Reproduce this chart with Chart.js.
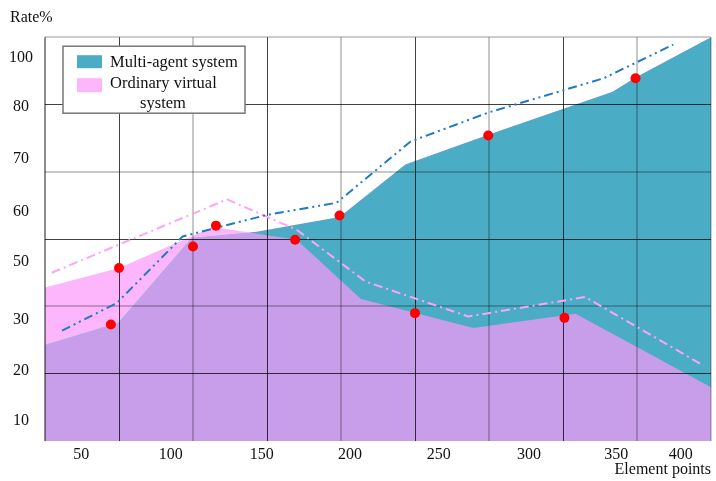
<!DOCTYPE html>
<html lang="en">
<head>
  <meta charset="UTF-8">
  <title>Rate% by element points</title>
  <script src="https://cdn.jsdelivr.net/npm/chart.js"></script>
  <style>
    html, body { margin: 0; padding: 0; background: #fff; }
    #wrap { width: 716px; height: 481px; }
  </style>
</head>
<body>
  <div id="wrap"><canvas id="myChart"></canvas></div>

  <script>
    // Axes run in grid units: 9 columns across, 6 rows up.
    // Tick labels of the figure sit at their own (uneven) places.
    const xTickPos = [0.49, 1.70, 2.93, 4.12, 5.32, 6.54, 7.72, 8.59];
    const xTickLabels = ["50", "100", "150", "200", "250", "300", "350", "400"];
    const yTickPos = [0.30, 1.04, 1.80, 2.66, 3.40, 4.19, 4.96, 5.70];
    const yTickLabels = ["10", "20", "30", "50", "60", "70", "80", "100"];

    // area outlines
    const multiAgentX = [0, 0.99, 1.98, 2.86, 3.98, 4.87, 5.99, 7.67, 7.98, 9];
    const multiAgentY = [1.43, 1.76, 3.02, 3.11, 3.33, 4.11, 4.55, 5.19, 5.40, 6.0];
    const ordinaryX = [0, 1.0, 2.27, 3.40, 4.27, 5.79, 7.17, 9];
    const ordinaryY = [2.28, 2.57, 3.18, 2.99, 2.11, 1.68, 1.89, 0.80];

    // dash-dot trend lines
    const multiTrendX = [0.23, 0.97, 1.86, 3.0, 3.94, 4.94, 5.99, 7.55, 8.49];
    const multiTrendY = [1.64, 2.05, 3.04, 3.36, 3.54, 4.45, 4.88, 5.39, 5.89];
    const ordTrendX = [0.09, 2.46, 3.40, 4.33, 5.72, 7.30, 8.90];
    const ordTrendY = [2.50, 3.59, 3.14, 2.37, 1.85, 2.14, 1.12];

    // red sample points
    const sampleX = [0.89, 1.0, 2.0, 2.31, 3.38, 3.98, 5.0, 5.99, 7.02, 7.98];
    const sampleY = [1.73, 2.57, 2.89, 3.20, 2.99, 3.35, 1.90, 4.54, 1.83, 5.39];

    const TEAL = "rgb(75, 172, 198)";
    const PINK = "rgb(253, 182, 251)";
    const PURPLE = "rgb(200, 158, 235)";

    function pts(xs, ys) {
      return xs.map((x, i) => ({ x: x, y: ys[i] }));
    }

    // odd lines dark and thin, even lines light and wide, frame light
    function gridColor(ctx, last) {
      const i = ctx.index;
      if (i === 0) return last === 9 ? "rgba(0,0,0,0.45)" : "rgba(255,255,255,0)";
      if (i === last) return "rgba(0,0,0,0.2)";
      return i % 2 ? "rgba(0,0,0,0.75)" : "rgba(0,0,0,0.22)";
    }
    function gridWidth(ctx, last) {
      const i = ctx.index;
      if (i === 0 || i === last) return 2;
      return i % 2 ? 1 : 2;
    }

    // boxed legend inside the plot, top left
    const boxLegend = {
      id: "boxLegend",
      afterDraw(chart) {
        const c = chart.ctx;
        const a = chart.chartArea;
        const x = a.left + 18, y = a.top + 9, w = 182, h = 67;
        c.save();
        c.fillStyle = "#fff";
        c.fillRect(x, y, w, h);
        c.strokeStyle = "#777";
        c.lineWidth = 1.5;
        c.strokeRect(x, y, w, h);
        c.fillStyle = TEAL;
        c.fillRect(x + 14, y + 9, 25, 13);
        c.fillStyle = PINK;
        c.fillRect(x + 14, y + 32, 25, 14);
        c.fillStyle = "#111";
        c.font = "16.5px 'Liberation Serif'";
        c.textBaseline = "middle";
        c.textAlign = "left";
        c.fillText("Multi-agent system", x + 47, y + 16);
        c.fillText("Ordinary virtual", x + 47, y + 37);
        c.textAlign = "center";
        c.fillText("system", x + 100, y + 57);
        c.restore();
      }
    };

    function drawChart() {
      Chart.defaults.font.family = "'Liberation Serif', 'Times New Roman', serif";
      Chart.defaults.font.size = 16;
      Chart.defaults.color = "#111";

      const ctx = document.getElementById("myChart").getContext("2d");

      new Chart(ctx, {
        type: "line",
        data: {
          datasets: [{
            // index 0: fills down to the multi-agent outline (dataset 1)
            label: "Ordinary virtual system",
            data: pts(ordinaryX, ordinaryY),
            borderWidth: 0,
            pointRadius: 0,
            fill: { target: 1, above: PINK, below: TEAL },
            order: 2
          }, {
            label: "Multi-agent system",
            data: pts(multiAgentX, multiAgentY),
            backgroundColor: PURPLE,
            borderWidth: 0,
            pointRadius: 0,
            fill: "origin",
            order: 3
          }, {
            label: "Multi-agent trend",
            data: pts(multiTrendX, multiTrendY),
            borderColor: "rgb(30, 122, 200)",
            borderWidth: 2,
            borderDash: [9, 4, 2, 4, 2, 4],
            pointRadius: 0,
            fill: false,
            order: 1
          }, {
            label: "Ordinary trend",
            data: pts(ordTrendX, ordTrendY),
            borderColor: "rgb(252, 165, 245)",
            borderWidth: 2,
            borderDash: [9, 4, 2, 4],
            pointRadius: 0,
            fill: false,
            order: 1
          }, {
            label: "Samples",
            data: pts(sampleX, sampleY),
            showLine: false,
            pointRadius: 5,
            pointBackgroundColor: "rgb(255, 0, 0)",
            pointBorderWidth: 0,
            order: 0
          }]
        },
        options: {
          responsive: true,
          maintainAspectRatio: false,
          animation: false,
          layout: { padding: { left: 10, right: 4, top: 0, bottom: 3 } },
          plugins: {
            legend: { display: false },
            tooltip: { enabled: false },
            filler: { drawTime: "beforeDraw" },
            title: {
              display: true,
              text: "Rate%",
              align: "start",
              color: "#111",
              font: { size: 16, weight: "normal", lineHeight: 1.2 },
              padding: { top: 8, bottom: 10 }
            }
          },
          scales: {
            x: {
              type: "linear",
              min: 0,
              max: 9,
              ticks: { display: false, stepSize: 1 },
              grid: {
                drawTicks: false,
                color: (c) => gridColor(c, 9),
                lineWidth: (c) => gridWidth(c, 9)
              },
              border: { display: false },
              afterFit: (axis) => { axis.height = 0; }
            },
            xl: {
              type: "linear",
              position: "bottom",
              min: 0,
              max: 9,
              afterBuildTicks: (axis) => {
                axis.ticks = xTickPos.map((v) => ({ value: v }));
              },
              ticks: {
                autoSkip: false,
                maxRotation: 0,
                padding: 4,
                callback: (v, i) => xTickLabels[i]
              },
              grid: { display: false, drawTicks: false },
              border: { display: false },
              title: {
                display: true,
                text: "Element points",
                align: "end",
                font: { size: 16, lineHeight: 1 },
                padding: { top: 0, bottom: 0 }
              },
              afterFit: (axis) => { axis.height = 37; }
            },
            y: {
              type: "linear",
              min: 0,
              max: 6,
              weight: 0,
              ticks: { display: false, stepSize: 1 },
              grid: {
                drawTicks: false,
                color: (c) => gridColor(c, 6),
                lineWidth: (c) => gridWidth(c, 6)
              },
              border: { display: false },
              afterFit: (axis) => { axis.width = 0; }
            },
            yl: {
              type: "linear",
              position: "left",
              min: 0,
              max: 6,
              weight: 1,
              afterBuildTicks: (axis) => {
                axis.ticks = yTickPos.map((v) => ({ value: v }));
              },
              ticks: {
                autoSkip: false,
                padding: 12,
                crossAlign: "center",
                callback: (v, i) => yTickLabels[i]
              },
              grid: { display: false, drawTicks: false },
              border: { display: false },
              afterFit: (axis) => { axis.width = 35; }
            }
          }
        },
        plugins: [boxLegend]
      });
    }

    document.addEventListener("DOMContentLoaded", drawChart);
  </script>
</body>
</html>
